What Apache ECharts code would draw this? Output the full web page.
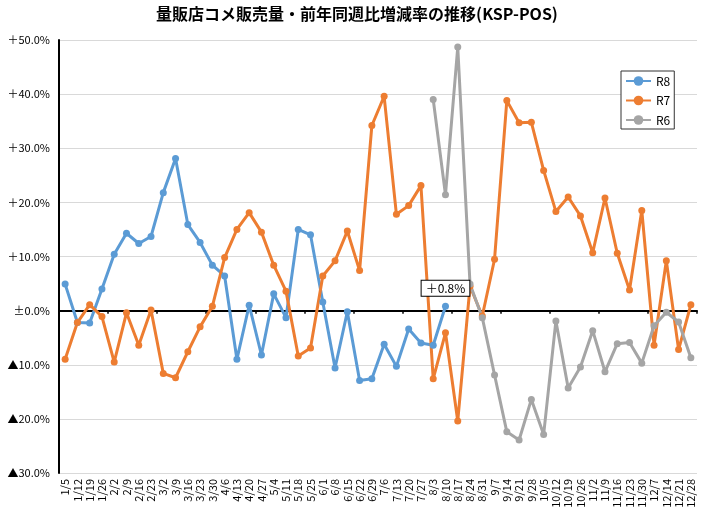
<!DOCTYPE html>
<html>
<head>
<meta charset="utf-8">
<title>量販店コメ販売量</title>
<script src="https://cdn.jsdelivr.net/npm/echarts@6/dist/echarts.min.js"></script>
<style>
  html, body { margin: 0; padding: 0; background: #fff; }
  #main { width: 714px; height: 521px; }
</style>
</head>
<body>
<div id="main"></div>
<script type="text/javascript">
// 週（x軸ラベル）
var weeks = ['1/5','1/12','1/19','1/26','2/2','2/9','2/16','2/23','3/2','3/9','3/16','3/23','3/30',
  '4/6','4/13','4/20','4/27','5/4','5/11','5/18','5/25','6/1','6/8','6/15','6/22','6/29',
  '7/6','7/13','7/20','7/27','8/3','8/10','8/17','8/24','8/31','9/7','9/14','9/21','9/28',
  '10/5','10/12','10/19','10/26','11/2','11/9','11/16','11/23','11/30','12/7','12/14','12/21','12/28'];

// 前年同週比（%）
var r8 = [4.9, -2.2, -2.3, 4.0, 10.4, 14.3, 12.4, 13.7, 21.8, 28.1, 15.9, 12.6, 8.4, 6.4, -9.0, 1.0,
  -8.2, 3.1, -1.3, 15.0, 14.0, 1.6, -10.6, -0.2, -12.9, -12.6, -6.2, -10.3, -3.4, -6.0, -6.4, 0.8];
var r7 = [-9.0, -2.2, 1.1, -1.1, -9.5, -0.4, -6.4, 0.1, -11.6, -12.4, -7.6, -3.0, 0.8, 9.8, 15.0, 18.1,
  14.5, 8.4, 3.6, -8.4, -6.9, 6.4, 9.2, 14.7, 7.4, 34.2, 39.6, 17.8, 19.4, 23.1, -12.6, -4.1,
  -20.4, 4.5, -1.0, 9.5, 38.8, 34.7, 34.8, 25.9, 18.3, 21.0, 17.5, 10.7, 20.8, 10.6, 3.8, 18.5,
  -6.4, 9.2, -7.2, 1.1];
// R6 は 8/3 週から
var r6Start = '8/3';
var r6 = [39.0, 21.4, 48.7, 4.9, -1.3, -11.9, -22.4, -23.9, -16.4, -22.9, -1.9, -14.3, -10.4, -3.7,
  -11.3, -6.1, -5.9, -9.7, -2.8, -0.3, -2.1, -8.7];

var seriesNames = ['R8', 'R7', 'R6'];
var colors = ['#5B9BD5', '#ED7D31', '#A5A5A5'];
var yTicks = [-30, -20, -10, 0, 10, 20, 30, 40, 50];

function pct(v) {
  if (v > 0) return '＋' + v.toFixed(1) + '%';
  if (v < 0) return '▲' + (-v).toFixed(1) + '%';
  return '±0.0%';
}

var FONT = '"Noto Sans CJK JP", "Noto Sans", sans-serif';

var r6Full = new Array(weeks.indexOf(r6Start)).fill(null).concat(r6);

// R8 最終点にラベル
var r8Data = r8.map(function (v, i) {
  if (i === r8.length - 1) {
    return {
      value: v,
      label: {
        show: true,
        position: 'top',
        distance: 7,
        formatter: function (p) { return pct(p.value); },
        color: '#000',
        fontFamily: FONT,
        fontSize: 12,
        backgroundColor: '#fff',
        borderColor: '#000',
        borderWidth: 1,
        padding: [2, 4, 1, 4]
      }
    };
  }
  return v;
});

var myChart = echarts.init(document.getElementById('main'));

function lineSeries(name, data, color) {
  return {
    name: name,
    type: 'line',
    data: data,
    xAxisIndex: 0,
    symbol: 'circle',
    symbolSize: 7,
    showSymbol: true,
    connectNulls: false,
    lineStyle: { color: color, width: 3 },
    itemStyle: { color: color },
    emphasis: { disabled: true },
    animation: false
  };
}

myChart.setOption({
  backgroundColor: '#fff',
  textStyle: { fontFamily: FONT },
  title: {
    text: '量販店コメ販売量・前年同週比増減率の推移(KSP-POS)',
    left: 'center',
    top: 1,
    textStyle: { fontFamily: FONT, fontSize: 16, fontWeight: 'bold', color: '#000' }
  },
  legend: {
    data: seriesNames,
    orient: 'vertical',
    left: 621,
    top: 71,
    backgroundColor: '#fff',
    borderColor: '#333',
    borderWidth: 1,
    borderRadius: 0,
    padding: [4, 4, 3, 4],
    itemGap: 7.5,
    itemWidth: 25,
    itemHeight: 12,
    textStyle: { fontFamily: FONT, fontSize: 12, color: '#000' }
  },
  grid: { left: 59, right: 17, top: 40, bottom: 48, containLabel: false },
  xAxis: [{
    type: 'category',
    data: weeks,
    boundaryGap: true,
    position: 'bottom',
    axisLine: { show: false, onZero: false },
    axisTick: { show: false },
    splitLine: { show: false },
    axisLabel: {
      rotate: 90,
      interval: 0,
      margin: 6,
      fontSize: 11,
      color: '#000',
      fontFamily: FONT
    }
  }, {
    type: 'category',
    data: weeks,
    boundaryGap: true,
    position: 'bottom',
    axisLine: { show: true, onZero: true, lineStyle: { color: '#000', width: 2 } },
    axisTick: { show: true, length: 3, lineStyle: { color: '#000', width: 1.5 } },
    axisLabel: { show: false },
    splitLine: { show: false }
  }],
  yAxis: {
    type: 'value',
    min: yTicks[0],
    max: yTicks[yTicks.length - 1],
    interval: 10,
    axisLine: { show: true, lineStyle: { color: '#000', width: 2 } },
    axisTick: { show: false },
    splitLine: { show: true, lineStyle: { color: '#D9D9D9', width: 1 } },
    axisLabel: {
      formatter: pct,
      margin: 9,
      fontSize: 11,
      color: '#000',
      fontFamily: FONT
    }
  },
  series: [
    lineSeries('R8', r8Data, colors[0]),
    lineSeries('R7', r7, colors[1]),
    lineSeries('R6', r6Full, colors[2])
  ]
});
</script>
</body>
</html>
